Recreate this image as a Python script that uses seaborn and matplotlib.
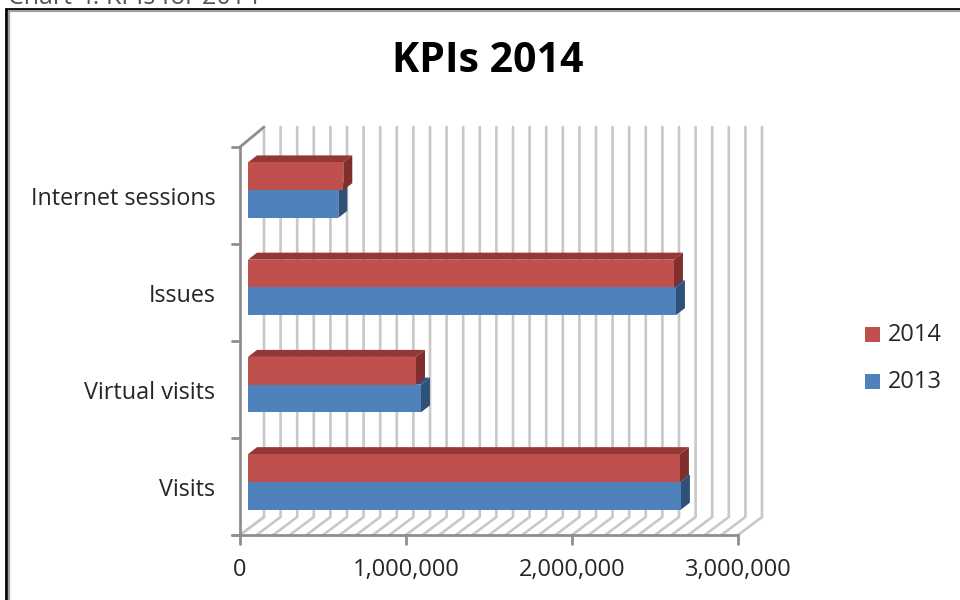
import matplotlib
matplotlib.use("Agg")
import matplotlib.pyplot as plt
import numpy as np
import pandas as pd
import seaborn as sns
from matplotlib.patches import Polygon, Rectangle
from matplotlib.transforms import ScaledTranslation

categories = ["Internet sessions", "Issues", "Virtual visits", "Visits"]
values_2014 = [574000, 2566000, 1012000, 2602000]
values_2013 = [544000, 2578000, 1042000, 2608000]
x_ticks = [0, 1000000, 2000000, 3000000]
x_labels = ["0", "1,000,000", "2,000,000", "3,000,000"]

RED, RED_TOP, RED_SIDE = "#c0504d", "#953735", "#7f302e"
BLUE, BLUE_SIDE = "#4f81bd", "#2f5078"
WALL = "#c8c8c8"
AXIS = "#8e8e8e"
TEXT = "#262626"

sns.set_theme(style="white")
plt.rcParams["font.family"] = ["Open Sans", "DejaVu Sans"]

W, H = 960, 600
fig = plt.figure(figsize=(W / 100, H / 100), dpi=100)


def px_axes(left, top, right, bottom, **kw):
    return fig.add_axes([left / W, 1 - bottom / H, (right - left) / W, (bottom - top) / H], **kw)


# pixel overlay for the window frame and the fake 3d walls
deco = px_axes(0, 0, W, H)
deco.set_xlim(0, W)
deco.set_ylim(H, 0)
deco.axis("off")

# frame runs off the right and bottom edge of the screenshot
deco.plot([6, 6, W], [H, 8.5, 8.5], color="black", lw=2, solid_joinstyle="miter")
deco.plot([8.8, 8.8, W], [H, 11, 11], color="#a0a0a0", lw=1.6, solid_joinstyle="miter")
deco.text(8, -3, "Chart 4: KPIs for 2014", fontsize=18, color="#555555", va="center", ha="left")
deco.text(488, 61, "KPIs 2014", fontsize=29.5, fontweight="bold", color="black",
          ha="center", va="center")

front_x = np.linspace(240, 738, 31)
for fx in front_x:
    deco.plot([fx, fx + 24, fx + 24], [535, 517, 127], color=WALL, lw=1.9, zorder=1)
deco.plot([240, 264], [147, 127], color=AXIS, lw=2, zorder=2)
deco.plot([240, 264], [535, 517], color=WALL, lw=1.9, zorder=2)
deco.plot([240, 240], [147, 535], color=AXIS, lw=2, zorder=2)
deco.plot([232, 738], [535, 535], color=AXIS, lw=2, zorder=2)
for ty in np.linspace(147, 535, 5):
    deco.plot([232, 240], [ty, ty], color=AXIS, lw=2, zorder=2)
for tick, lab in zip(x_ticks, x_labels):
    tx = 240 + tick / 3000000 * 498
    deco.plot([tx, tx], [535, 544], color=AXIS, lw=2, zorder=2)
    deco.text(tx, 570, lab, fontsize=17, color=TEXT, ha="center", va="center")

# bars sit a little in front of the back wall
df = pd.DataFrame({
    "category": categories * 2,
    "value": values_2014 + values_2013,
    "year": ["2014"] * 4 + ["2013"] * 4,
})
ax = px_axes(248, 141.5, 746, 530.5)
ax.patch.set_alpha(0)
sns.barplot(data=df, y="category", x="value", hue="year", order=categories,
            hue_order=["2014", "2013"], palette=[RED, BLUE], width=0.57, gap=0,
            dodge=True, saturation=1, legend=False, ax=ax, edgecolor="none", linewidth=0)
ax.set_xlim(0, 3000000)
ax.set_ylim(3.5, -0.5)
ax.set_xlabel("")
ax.set_ylabel("")
ax.set_xticks([])
ax.tick_params(axis="y", length=0, pad=23.5, labelsize=16.8, labelcolor=TEXT)
sns.despine(ax=ax, left=True, bottom=True)
# category labels hang slightly below the bar centres
for lab in ax.get_yticklabels():
    lab.set_transform(lab.get_transform() + ScaledTranslation(0, -5.5 / 100, fig.dpi_scale_trans))

# depth faces, derived from each drawn bar
dx = 9 * 3000000 / 498
dy = 7 * 4 / 389
for bar in list(ax.patches):
    x0, y0 = bar.get_x(), bar.get_y()
    w, h = bar.get_width(), bar.get_height()
    if w == 0:
        continue
    is_red = matplotlib.colors.to_hex(bar.get_facecolor()) == RED
    z = 3 if is_red else 2
    top_c = RED_TOP if is_red else BLUE_SIDE
    side_c = RED_SIDE if is_red else BLUE_SIDE
    bar.set_zorder(z + 0.5)
    ax.add_patch(Polygon([(x0, y0), (x0 + dx, y0 - dy), (x0 + w + dx, y0 - dy), (x0 + w, y0)],
                         fc=top_c, ec="none", zorder=z))
    ax.add_patch(Polygon([(x0 + w, y0), (x0 + w + dx, y0 - dy), (x0 + w + dx, y0 + h - dy), (x0 + w, y0 + h)],
                         fc=side_c, ec="none", zorder=z))

# legend by hand to keep the swatch spacing of the original
for label, color, ly in [("2014", RED, 334), ("2013", BLUE, 381)]:
    deco.add_patch(Rectangle((865, ly - 7.5), 15, 15, fc=color, ec="none"))
    deco.text(888, ly + 1, label, fontsize=17, color=TEXT, ha="left", va="center")

fig.savefig("out.png", dpi=100)
